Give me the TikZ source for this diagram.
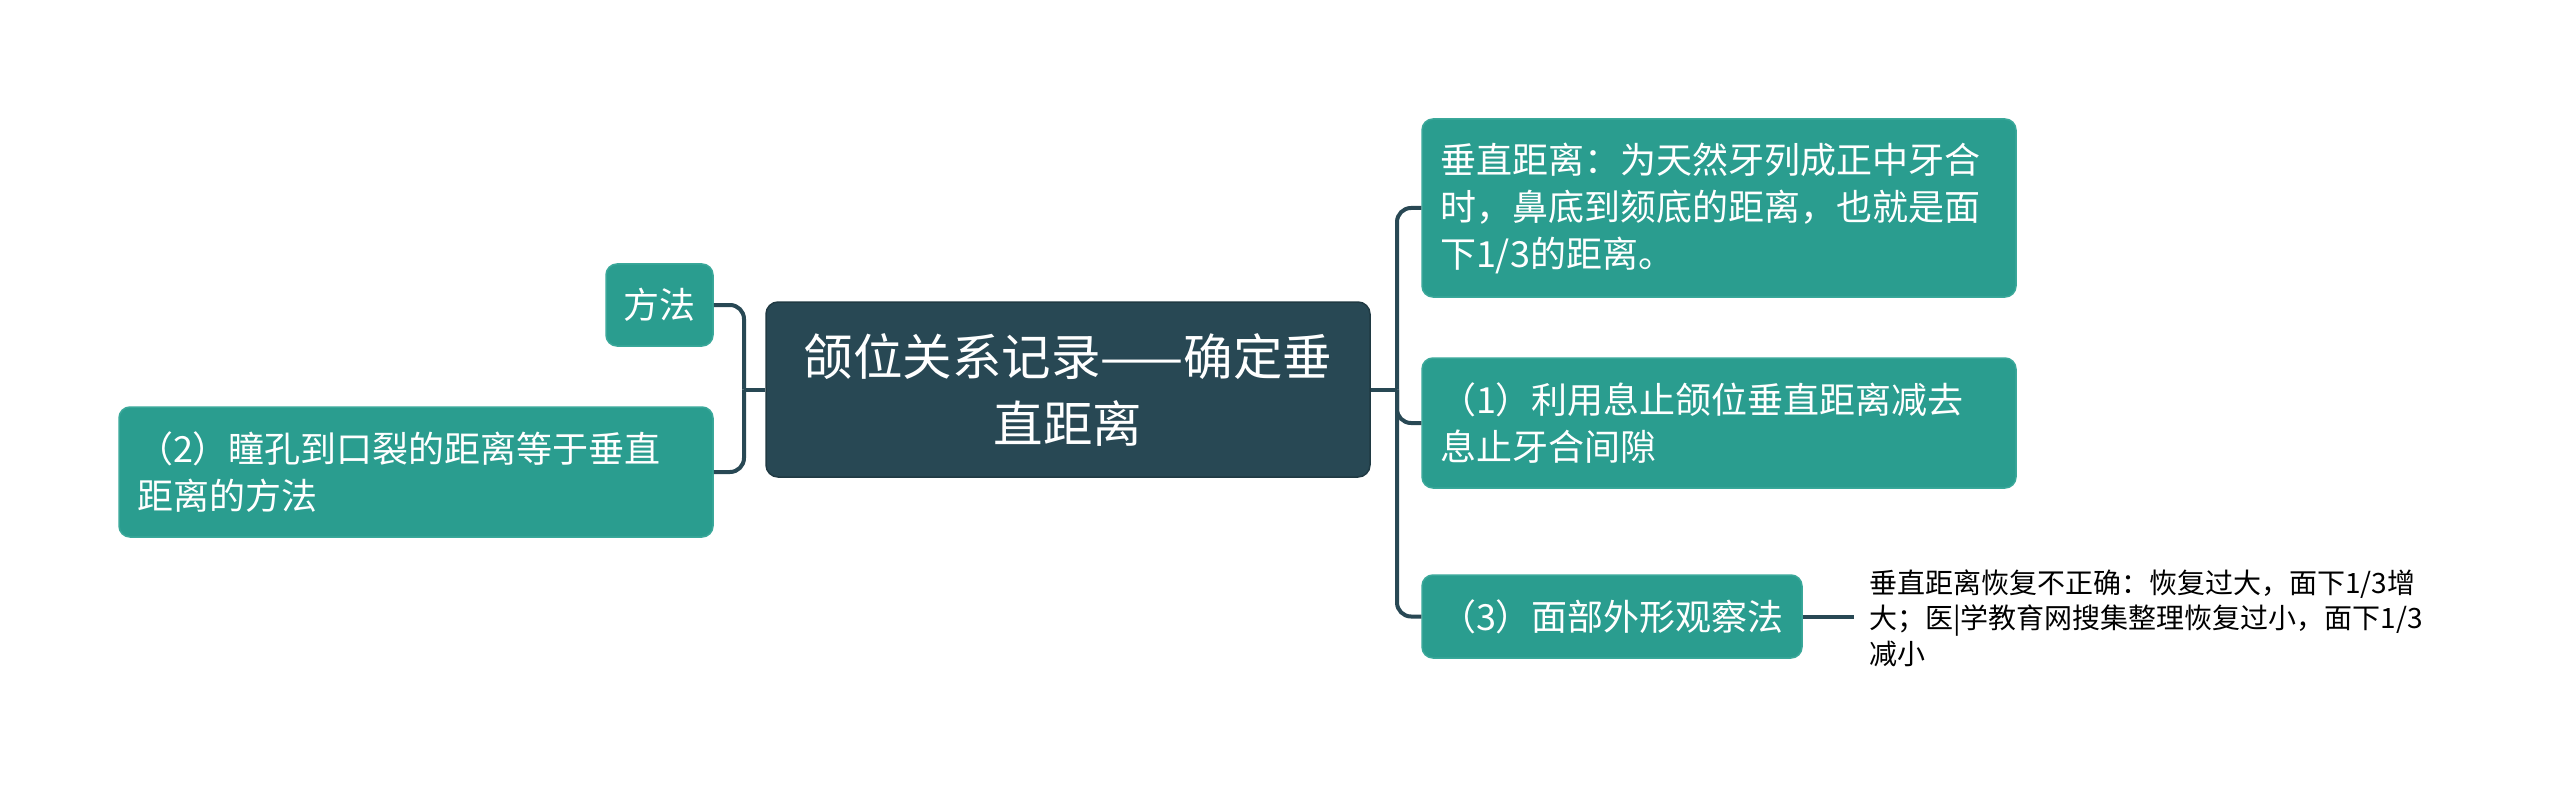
\documentclass[tikz,border=0pt]{standalone}
\usepackage{fontspec}
\setmainfont{Noto Sans CJK SC}
\definecolor{darkc}{HTML}{284854}
\definecolor{tealc}{HTML}{2A9D8F}
\definecolor{tealb}{HTML}{3AA89A}
\tikzset{
  rootbox/.style={draw=darkc!80!black, line width=1.5pt, fill=darkc, rounded corners=12pt, text=white, align=center, inner sep=0pt,
    font=\fontsize{49.5}{67}\selectfont},
  subbox/.style={draw=tealb, line width=1.5pt, fill=tealc, rounded corners=11pt, text=white, align=left, inner sep=0pt,
    font=\fontsize{36}{47}\selectfont},
  leafbox/.style={inner sep=0pt, align=left, text=black, font=\fontsize{28}{35.5}\selectfont},
  conn/.style={draw=darkc, line width=4pt, rounded corners=14pt},
}
\begin{document}
\begin{tikzpicture}[x=1pt,y=-1pt]
\useasboundingbox (0,0) rectangle (2560,805);
\fill[white] (0,0) rectangle (2560,805);
% root
\node[rootbox, minimum width=604pt, minimum height=175pt, text width=590pt] (root) at (1068,389.5) {颌位关系记录——确定垂\\直距离};
% left side
\node[subbox, minimum width=107pt, minimum height=82pt, align=center, text width=107pt] (fangfa) at (659.5,305) {方法};
\node[subbox, minimum width=594pt, minimum height=130pt, text width=558pt] (n2) at (416,472) {（2）瞳孔到口裂的距离等于垂直\\距离的方法};
% right side
\node[subbox, minimum width=594pt, minimum height=178pt, text width=558pt] (top) at (1719,208) {垂直距离：为天然牙列成正中牙合\\时，鼻底到颏底的距离，也就是面\\下1/3的距离。};
\node[subbox, minimum width=594pt, minimum height=130pt, text width=558pt] (n1) at (1719,423) {（1）利用息止颌位垂直距离减去\\息止牙合间隙};
\node[subbox, minimum width=380pt, minimum height=83pt, text width=344pt] (n3) at (1612,616.5) {（3）面部外形观察法};
\node[leafbox, anchor=west] (leaf) at (1869,618) {垂直距离恢复不正确：恢复过大，面下1/3增\\大；医|学教育网搜集整理恢复过小，面下1/3\\减小};
% junctions
\coordinate (lj) at (744,389.5);
\coordinate (rj) at (1397,389.5);
\coordinate (le) at (1854,616.5);
% connectors
\draw[conn] (root.west) -- (lj);
\draw[conn] (lj) |- (fangfa.east);
\draw[conn] (lj) |- (n2.east);
\draw[conn] (root.east) -- (rj);
\draw[conn] (rj) |- (top.west);
\draw[conn] (rj) |- (n1.west);
\draw[conn] (rj) |- (n3.west);
\draw[conn] (n3.east) -- (le);
\end{tikzpicture}
\end{document}
